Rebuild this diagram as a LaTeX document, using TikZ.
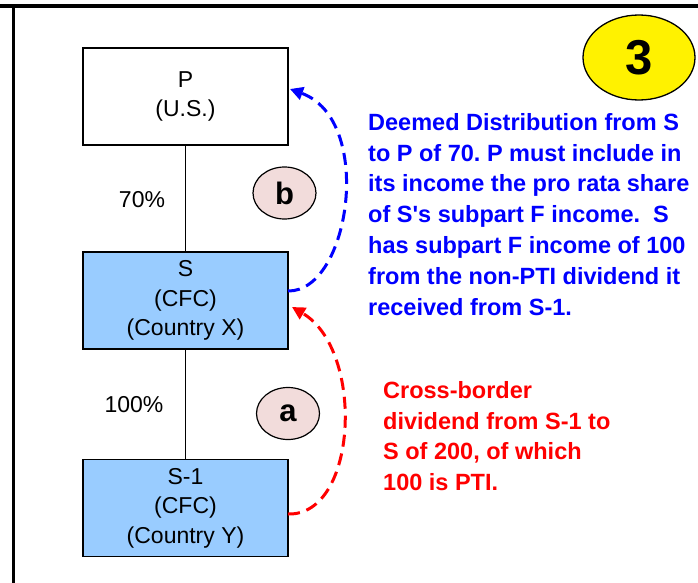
\documentclass[tikz,border=0pt]{standalone}
\usepackage{fontspec}
\setmainfont{Liberation Sans}
\usetikzlibrary{shapes.geometric,arrows.meta}
\definecolor{cfcblue}{HTML}{99CCFF}
\definecolor{tagpink}{HTML}{F2DCDB}
\frenchspacing
\begin{document}
\begin{tikzpicture}[x=1pt,y=-1pt]
        \tikzstyle{entity}=[draw,line width=1.3pt,fill=white,minimum width=205pt,minimum height=97pt,align=center,inner sep=0pt,font=\fontsize{23}{29.5}\selectfont]
        \tikzstyle{cfc}=[entity,fill=cfcblue]
        \tikzstyle{tag}=[draw,line width=1.2pt,ellipse,fill=tagpink,minimum width=63pt,minimum height=52pt,inner sep=0pt,font=\fontsize{31}{31}\selectfont\bfseries]
        \tikzstyle{share}=[font=\fontsize{23}{23}\selectfont]
        \tikzstyle{note}=[anchor=north west,align=left,inner sep=0pt,font=\fontsize{23.5}{30.8}\selectfont\bfseries]
        \tikzstyle{flow}=[line width=3pt,dash pattern=on 12pt off 7pt,-{Triangle[length=13pt,width=13pt]}]
        \useasboundingbox (0,0) rectangle (698,583);
        \draw[line width=4pt] (0,6) -- (698,6);
        \draw[line width=3pt] (13,6) -- (13,583);
        \node[entity] (P) at (185.5,96.5) {P\\(U.S.)};
        \node[cfc] (S) at (185.5,300.5) {S\\(CFC)\\(Country X)};
        \node[cfc] (S1) at (185.5,508) {S-1\\(CFC)\\(Country Y)};
        \draw[line width=1.3pt] (P) -- (S);
        \draw[line width=1.3pt] (S) -- (S1);
        \node[share] (pctS) at (142,200) {70\%};
        \node[share] (pctS1) at (134,405) {100\%};
        \node[tag] (b) at (284.5,193) {b};
        \node[tag] (a) at (288,413.5) {a};
        \node[ellipse,draw,line width=1.3pt,fill=yellow,minimum width=112pt,minimum height=85pt,font=\fontsize{49}{49}\selectfont\bfseries] (three) at (639,57.5) {3};
        \coordinate (Sout) at (288,291);
        \coordinate (Pin) at (290,89);
        \coordinate (S1out) at (288,514);
        \coordinate (Sin) at (292,307);
        \draw[flow,blue] (Sout) .. controls (350,292) and (375,120) .. (Pin);
        \draw[flow,red] (S1out) .. controls (358,516) and (365,350) .. (Sin);
        \node[note,text=blue] (deemed) at (368,113) {Deemed Distribution from S\\to P of 70. P must include in\\its income the pro rata share\\of S\textquotesingle s subpart F income.\ \ S\\has subpart F income of 100\\from the non-PTI dividend it\\received from S-1.};
        \node[note,text=red] (crossborder) at (383,381) {Cross-border\\dividend from S-1 to\\S of 200, of which\\100 is PTI.};
\end{tikzpicture}
\end{document}
